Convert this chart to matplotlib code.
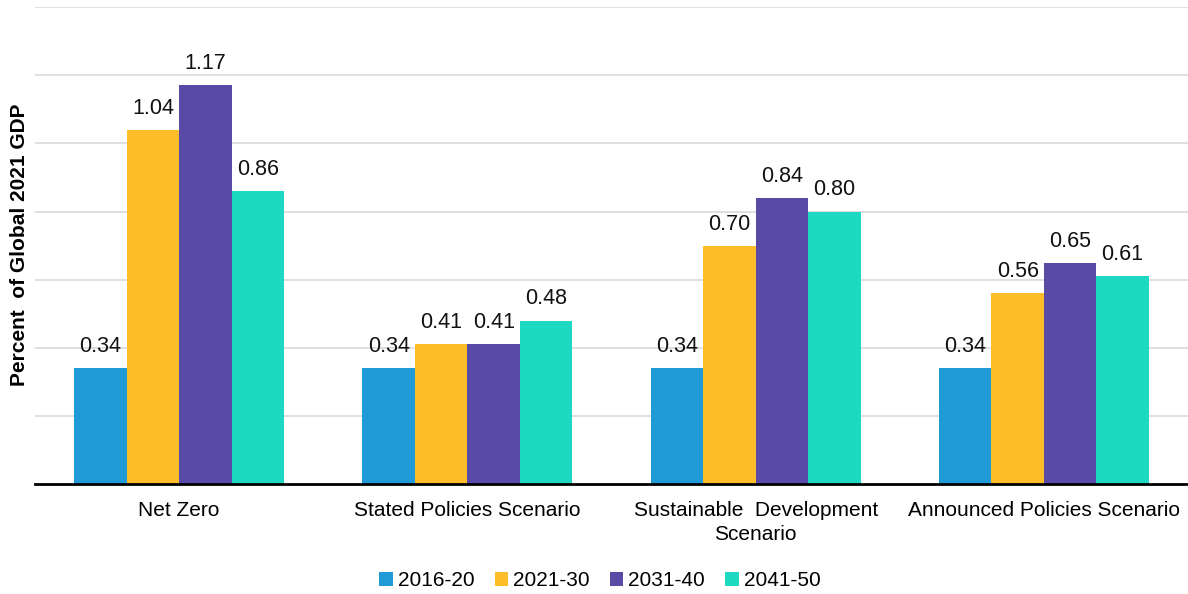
import matplotlib.pyplot as plt
import numpy as np

plt.rcParams['font.family'] = ['Liberation Sans', 'DejaVu Sans']

scenarios = ["Net Zero", "Stated Policies Scenario",
             "Sustainable  Development\nScenario", "Announced Policies Scenario"]
periods = ["2016-20", "2021-30", "2031-40", "2041-50"]
values = {
    "2016-20": [0.34, 0.34, 0.34, 0.34],
    "2021-30": [1.04, 0.41, 0.70, 0.56],
    "2031-40": [1.17, 0.41, 0.84, 0.65],
    "2041-50": [0.86, 0.48, 0.80, 0.61],
}
colors = ["#1E9BD7", "#FDBE2A", "#594BA5", "#1ED9C1"]

fig = plt.figure(figsize=(11.88, 5.94), dpi=100)
ax = fig.add_axes([0.0295, 0.185, 0.9705, 0.803])

x = np.arange(len(scenarios))
width = 0.182
for i, (period, color) in enumerate(zip(periods, colors)):
    offset = (i - 1.5) * width
    bars = ax.bar(x + offset, values[period], width, color=color, label=period, zorder=2)
    for b, v in zip(bars, values[period]):
        ax.annotate(f"{v:.2f}", (b.get_x() + b.get_width() / 2, v),
                    xytext=(0, 8), textcoords="offset points",
                    ha="center", va="bottom", fontsize=15.5, color="#111111")

ax.set_xlim(-0.5, 3.5)
ax.set_ylim(0, 1.4)
ax.set_yticks(np.arange(0.2, 1.41, 0.2))
ax.set_yticklabels([])
ax.tick_params(axis="y", length=0)
ax.tick_params(axis="x", length=0, labelsize=15, pad=12)
ax.set_xticks(x)
ax.set_xticklabels(scenarios, linespacing=1.35)
ax.grid(axis="y", color="#d9d9d9", linewidth=1.2, zorder=0)
for s in ["top", "right", "left"]:
    ax.spines[s].set_visible(False)
ax.spines["bottom"].set_linewidth(2)
ax.spines["bottom"].set_color("black")

fig.text(0.0165, 0.5875, "Percent  of Global 2021 GDP", rotation=90,
         ha="center", va="center", fontsize=15, fontweight="bold")

fig.legend(loc="center", bbox_to_anchor=(0.505, 0.022), ncol=4, frameon=False,
           fontsize=15, handlelength=0.65, handleheight=0.65, handletextpad=0.25,
           columnspacing=0.95)

fig.savefig("out.png", dpi=100)
